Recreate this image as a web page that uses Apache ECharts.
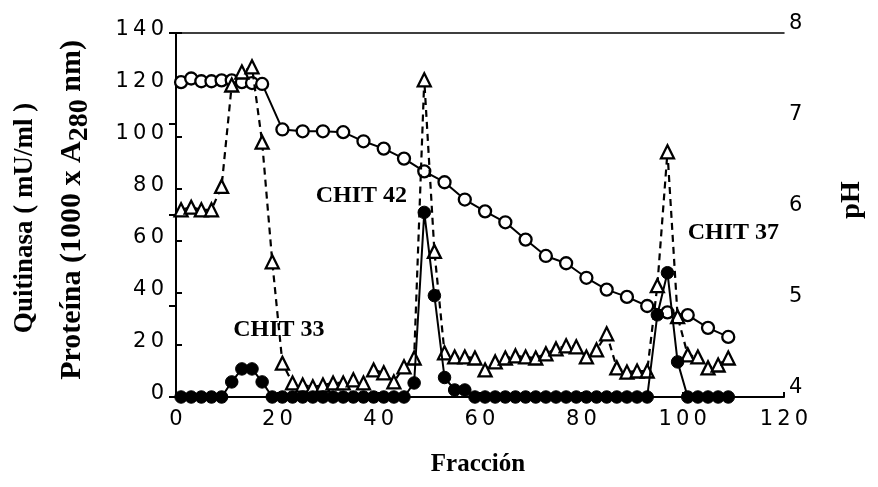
<!DOCTYPE html>
<html><head><meta charset="utf-8">
<script src="https://cdn.jsdelivr.net/npm/echarts@6/dist/echarts.min.js"></script>
<style>html,body{margin:0;padding:0;background:#fff}#c{width:878px;height:487px}</style>
</head><body><div id="c"></div>
<script>
// ---- data ----
const fractions = [1,3,5,7,9,11,13,15,17,19,21,23,25,27,29,31,33,35,37,39,41,43,45,47,49,51,53,55,57,59,61,63,65,67,69,71,73,75,77,79,81,83,85,87,89,91,93,95,97,99,101,103,105,107,109];
// Proteína (1000 x A280 nm) - open triangles, dashed
const proteina = [72,73,72,72,81,120,125,127,98,52,13,5.4,4.6,3.9,4.6,5.4,5.4,6.6,5.4,10.4,9.3,5.8,11.6,15,122,56,17,15.4,15.4,15,10.4,13.5,15,15.8,15.4,15,16.6,18.5,19.7,19.3,15.4,18.1,24.3,11.2,9.6,10,10,42.8,94.3,30.9,16.2,15.4,11.2,12.3,15];
// Quitinasa (mU/ml) - filled circles
const quitinasa = [0,0,0,0,0,5.8,10.8,10.8,5.8,0,0,0,0,0,0,0,0,0,0,0,0,0,0,5.4,71,39,7.5,2.7,2.7,0,0,0,0,0,0,0,0,0,0,0,0,0,0,0,0,0,0,31.6,47.8,13.5,0,0,0,0,0];
// pH - open circles
const phFractions = [1,3,5,7,9,11,13,15,17,21,25,29,33,37,41,45,49,53,57,61,65,69,73,77,81,85,89,93,97,101,105,109];
const phValues = [7.46,7.50,7.47,7.47,7.48,7.48,7.46,7.45,7.44,6.94,6.92,6.92,6.91,6.81,6.73,6.62,6.48,6.36,6.17,6.04,5.92,5.73,5.55,5.47,5.31,5.18,5.10,5.00,4.93,4.90,4.76,4.66];
// annotations [label, x, y(left axis)]
const annotations = [["CHIT 33",20.3,26],["CHIT 42",36.6,77.5],["CHIT 37",110,63]];

const zip = (xs, ys) => xs.map((x,i)=>[x, ys[i]]);
const spaced = v => String(v).split('').join('\u2009');
const chart = echarts.init(document.getElementById('c'));
const tickFont = {fontFamily:'DejaVu Sans', fontSize:21, color:'#000'};
const axisLine = {show:true, lineStyle:{color:'#000', width:2}};

chart.setOption({
  animation:false,
  backgroundColor:'#fff',
  grid:{left:176, right:94, top:33, bottom:90},
  xAxis:[
    {type:'value', min:0, max:120, interval:20, axisLine:axisLine,
     axisTick:{show:true, inside:true, length:5, lineStyle:{color:'#000', width:2}},
     axisLabel:Object.assign({margin:12, formatter:spaced}, tickFont), splitLine:{show:false}},
    {type:'value', position:'top', min:0, max:120, axisLine:{show:true, lineStyle:{color:'#000', width:1.5}},
     axisTick:{show:false}, axisLabel:{show:false}, splitLine:{show:false}}
  ],
  yAxis:[
    {type:'value', min:0, max:140, interval:20, axisLine:axisLine,
     axisTick:{show:true, inside:true, length:6, lineStyle:{color:'#000', width:2}},
     axisLabel:Object.assign({margin:12, formatter:spaced, verticalAlign:'bottom', lineHeight:6}, tickFont), splitLine:{show:false}},
    {type:'value', position:'right', min:4, max:8, interval:1, axisLine:axisLine,
     axisTick:{show:true, inside:true, length:7, lineStyle:{color:'#000', width:2}},
     axisLabel:Object.assign({margin:5, verticalAlign:'bottom', lineHeight:18}, tickFont), splitLine:{show:false}}
  ],
  series:[
    {type:'line', name:'pH', yAxisIndex:1, data:zip(phFractions, phValues), symbol:'circle', symbolSize:12,
     lineStyle:{color:'#000', width:2}, itemStyle:{color:'#fff', borderColor:'#000', borderWidth:2.3}, z:2},
    {type:'line', name:'Proteína', data:zip(fractions, proteina), symbol:'triangle', symbolSize:13,
     lineStyle:{color:'#000', width:2.2, type:[7,5]}, itemStyle:{color:'#fff', borderColor:'#000', borderWidth:2.3}, z:3},
    {type:'line', name:'Quitinasa', data:zip(fractions, quitinasa), symbol:'circle', symbolSize:12.5,
     lineStyle:{color:'#000', width:2}, itemStyle:{color:'#000', borderColor:'#000', borderWidth:1}, z:4}
  ]
});

const serifBold = 'bold 24px "Liberation Serif", "Times New Roman", serif';
const graphics = annotations.map(([t,x,y]) => {
  const p = chart.convertToPixel({xAxisIndex:0, yAxisIndex:0}, [x,y]);
  return {type:'text', x:p[0], y:p[1], z:100, style:{text:t, font:serifBold, fill:'#000', align:'center', verticalAlign:'middle'}};
});
graphics.push(
  {type:'text', x:478, y:465, style:{text:'Fracción', font:'bold 25px "Liberation Serif", serif', fill:'#000', align:'center', verticalAlign:'middle'}},
  {type:'text', x:25, y:218, rotation:Math.PI/2, style:{text:'Quitinasa ( mU/ml )', font:'bold 27px "Liberation Serif", serif', fill:'#000', align:'center', verticalAlign:'middle'}},
  {type:'text', x:72, y:210, rotation:Math.PI/2, style:{text:'Proteína (1000 x A{s|280} nm)', font:'bold 30px "Liberation Serif", serif', fill:'#000', align:'center', verticalAlign:'middle',
     rich:{s:{font:'bold 28px "Liberation Serif", serif', fill:'#000', padding:[16,0,0,0]}}}},
  {type:'text', x:852, y:200, rotation:Math.PI/2, style:{text:'pH', font:'bold 28px "Liberation Serif", serif', fill:'#000', align:'center', verticalAlign:'middle'}}
);
chart.setOption({graphic:graphics});
</script></body></html>
